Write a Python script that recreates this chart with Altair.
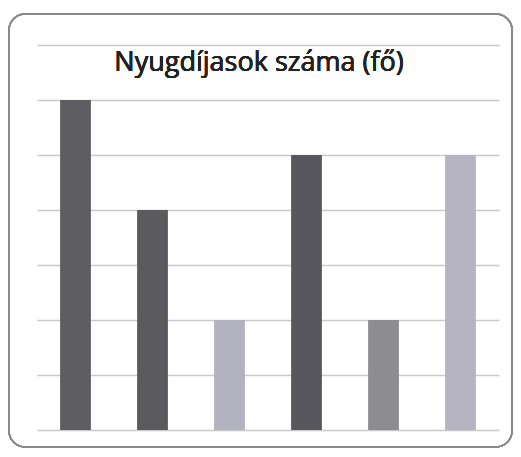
import altair as alt
import pandas as pd

categories = ["1", "2", "3", "4", "5", "6"]
values = [6, 4, 2, 5, 2, 5]
colors = ["#5e5e62", "#5b5a5f", "#b3b2c0", "#58575d", "#8d8c91", "#b6b4c3"]

df = pd.DataFrame({"cat": categories, "val": values, "color": colors})

base = alt.Chart(df)

bars = base.mark_bar().encode(
    x=alt.X("cat:N", sort=categories, axis=None,
            scale=alt.Scale(paddingInner=0.6, paddingOuter=0.3)),
    y=alt.Y("val:Q", scale=alt.Scale(domain=[0, 7], nice=False),
            axis=alt.Axis(values=[0, 1, 2, 3, 4, 5, 6, 7], labels=False, ticks=False,
                          domain=False, grid=True, gridColor="#c9c9c9", gridWidth=1.5,
                          title=None)),
    color=alt.Color("color:N", scale=None),
)

frame = base.mark_rect(fill=None, stroke="#8a8a8a", strokeWidth=1.5, cornerRadius=16).encode(
    x=alt.value(-28), x2=alt.value(475), y=alt.value(-31), y2=alt.value(402)
)

title = base.mark_text(text="Nyugdíjasok száma (fő)", font="Open Sans", fontSize=27,
                       color="#222222", align="center", baseline="middle").encode(
    x=alt.value(222), y=alt.value(18)
)

chart = alt.layer(frame, bars, title).properties(
    width=462, height=385,
    padding={"left": 29, "top": 37, "right": 14, "bottom": 19},
    autosize=alt.AutoSizeParams(type="none"),
).configure_view(stroke=None)

chart.save("out.html", embed_options={"renderer": "svg", "actions": False})
